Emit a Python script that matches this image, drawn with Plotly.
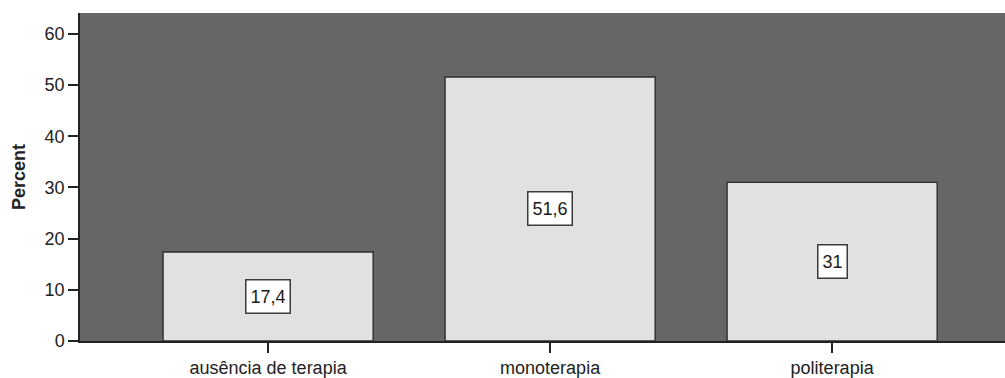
import plotly.graph_objects as go

categories = ["ausência de terapia", "monoterapia", "politerapia"]
percent = [17.4, 51.6, 31.0]
y_ticks = [0, 10, 20, 30, 40, 50, 60]


def fmt(v):
    s = f"{v:.1f}".rstrip("0").rstrip(".")
    return s.replace(".", ",")


FONT = "Liberation Sans, Arial, sans-serif"

fig = go.Figure()
fig.add_trace(go.Bar(
    x=list(range(len(categories))),
    y=percent,
    width=0.745,
    marker=dict(color="#e1e1e1", line=dict(color="#2e2e2e", width=1.4)),
    hoverinfo="skip",
))

for i, v in enumerate(percent):
    fig.add_annotation(
        x=i, y=v / 2, text=fmt(v), showarrow=False,
        font=dict(family=FONT, size=18, color="#1a1a1a"),
        bgcolor="white", bordercolor="#3a3a3a", borderwidth=1.5, borderpad=4,
        height=24,
    )

fig.update_layout(
    width=1005, height=378,
    margin=dict(l=80, r=0, t=13, b=37),
    paper_bgcolor="white",
    plot_bgcolor="#666666",
    showlegend=False,
    font=dict(family=FONT, size=18, color="#222222"),
    xaxis=dict(
        range=[-0.667, 2.613],
        tickvals=list(range(len(categories))),
        ticktext=categories,
        ticks="outside", ticklen=10, tickcolor="#222222", tickwidth=1.5,
        showline=True, linecolor="#222222", linewidth=1.5,
        showgrid=False, zeroline=False,
        tickfont=dict(size=18),
    ),
    yaxis=dict(
        range=[0, 64.1],
        tickvals=y_ticks,
        ticks="outside", ticklen=10, tickcolor="#222222", tickwidth=1.5,
        showline=True, linecolor="#222222", linewidth=1.5,
        showgrid=False, zeroline=False,
        title=dict(text="<b>Percent</b>", font=dict(size=18), standoff=14),
        tickfont=dict(size=18),
    ),
)

post = (
    "document.body.style.margin='0px';"
    "document.body.style.overflow='hidden';"
    "var gd=document.getElementById('{plot_id}');"
    "Plotly.relayout(gd,{width:1005,height:378});"
)

fig.write_html("out.html", post_script=post, config={"displayModeBar": False})
